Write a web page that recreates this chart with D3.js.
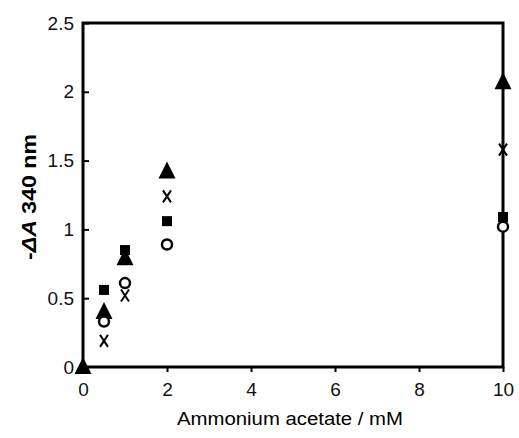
<!DOCTYPE html>
<html>
<head>
<meta charset="utf-8">
<script src="https://cdn.jsdelivr.net/npm/d3@7"></script>
<style>
  body { margin: 0; background: #fff; }
  text { font-family: Arial, "Liberation Sans", sans-serif; }
</style>
</head>
<body>
<div id="chart-area"></div>
<script>
// concentrations (mM)
var conc = [0, 0.5, 1, 2, 10];
// -dA 340 nm for each series
var triangleVals = [0, 0.40, 0.79, 1.42, 2.07];
var crossVals    = [null, 0.19, 0.52, 1.24, 1.58];
var squareVals   = [null, 0.56, 0.85, 1.06, 1.09];
var circleVals   = [null, 0.33, 0.61, 0.89, 1.02];

var xTicks = [0, 2, 4, 6, 8, 10];
var yTicks = [0, 0.5, 1, 1.5, 2, 2.5];

var width = 519, height = 438;
var svg = d3.select("#chart-area").append("svg")
    .attr("width", width)
    .attr("height", height);

var x = d3.scaleLinear().domain([0, 10]).range([83, 503]);
var y = d3.scaleLinear().domain([0, 2.5]).range([367, 23]);

// frame
svg.append("rect")
    .attr("x", x(0)).attr("y", y(2.5))
    .attr("width", x(10) - x(0)).attr("height", y(0) - y(2.5))
    .attr("fill", "none").attr("stroke", "#000").attr("stroke-width", 3);

// x axis
var xAxis = svg.append("g")
    .attr("transform", "translate(0," + y(0) + ")")
    .call(d3.axisBottom(x).tickValues(xTicks).tickSize(5).tickPadding(11).tickFormat(d3.format("d")));
xAxis.select(".domain").remove();
xAxis.selectAll("line").attr("stroke-width", 2);
xAxis.selectAll("text").attr("font-size", 19).attr("fill", "#111");

// y axis, ticks point inward
var yAxis = svg.append("g")
    .attr("transform", "translate(" + x(0) + ",0)")
    .call(d3.axisRight(y).tickValues(yTicks).tickSize(6).tickFormat(function(d){ return d; }));
yAxis.select(".domain").remove();
yAxis.selectAll("line").attr("stroke-width", 2);
yAxis.selectAll("text")
    .attr("x", -9)
    .attr("text-anchor", "end")
    .attr("font-size", 19).attr("fill", "#111");

// labels
svg.append("text")
    .attr("x", 290)
    .attr("y", 425)
    .attr("text-anchor", "middle")
    .attr("font-size", 17.5)
    .attr("textLength", 226)
    .attr("lengthAdjust", "spacingAndGlyphs")
    .text("Ammonium acetate / mM");

var ylab = svg.append("text")
    .attr("transform", "translate(36," + ((y(0) + y(2.5)) / 2 + 2) + ") rotate(-90)")
    .attr("text-anchor", "middle")
    .attr("font-size", 21)
    .attr("font-weight", "bold")
    .attr("textLength", 126)
    .attr("lengthAdjust", "spacingAndGlyphs");
ylab.append("tspan").text("-");
ylab.append("tspan").attr("font-style", "italic").text("\u0394A");
ylab.append("tspan").text(" 340 nm");

function pts(vals) {
    return conc.map(function(c, i){ return {x: c, v: vals[i]}; })
        .filter(function(d){ return d.v !== null; });
}

// squares
svg.append("g").selectAll("rect")
    .data(pts(squareVals)).enter().append("rect")
    .attr("x", function(d){ return x(d.x) - 5; })
    .attr("y", function(d){ return y(d.v) - 5; })
    .attr("width", 10).attr("height", 10)
    .attr("fill", "#000");

// triangles
svg.append("g").selectAll("path")
    .data(pts(triangleVals)).enter().append("path")
    .attr("d", "M0,-10L8.5,7L-8.5,7Z")
    .attr("transform", function(d){ return "translate(" + x(d.x) + "," + y(d.v) + ")"; })
    .attr("fill", "#000");

// open circles
svg.append("g").selectAll("circle")
    .data(pts(circleVals)).enter().append("circle")
    .attr("cx", function(d){ return x(d.x); })
    .attr("cy", function(d){ return y(d.v); })
    .attr("r", 5)
    .attr("fill", "#fff").attr("stroke", "#000").attr("stroke-width", 2.5);

// crosses
svg.append("g").selectAll("path")
    .data(pts(crossVals)).enter().append("path")
    .attr("d", "M-4,-6L4,6M4,-6L-4,6")
    .attr("transform", function(d){ return "translate(" + x(d.x) + "," + y(d.v) + ")"; })
    .attr("stroke", "#000").attr("stroke-width", 2).attr("fill", "none");
</script>
</body>
</html>
